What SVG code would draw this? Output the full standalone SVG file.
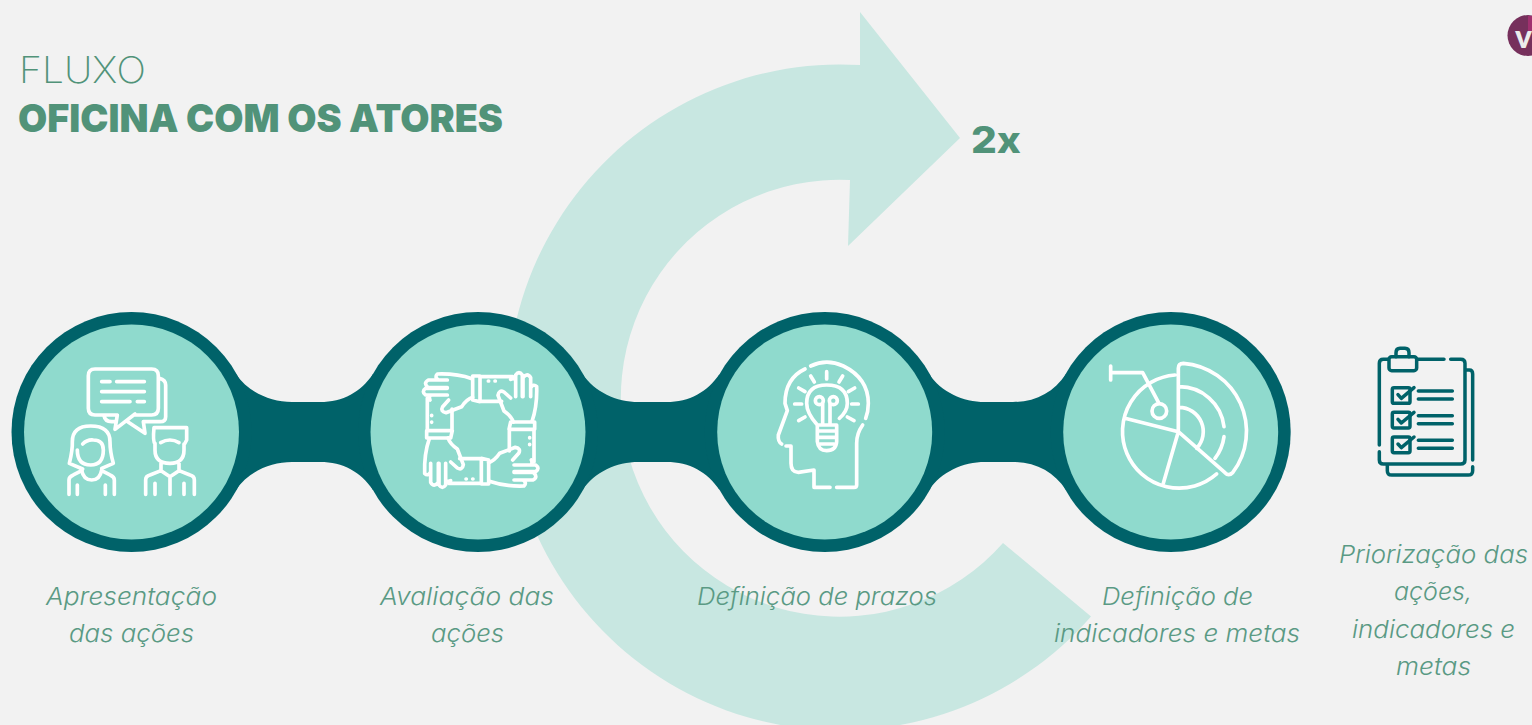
<svg xmlns="http://www.w3.org/2000/svg" xmlns:xlink="http://www.w3.org/1999/xlink" width="1532" height="725" viewBox="0 0 1532 725">
<style>
.lb{font-family:"Inter","Open Sans",sans-serif;font-weight:300;font-style:italic;font-size:24px;fill:#5a9a84}
.outer{fill:#006269}.inner{fill:#8fdacd}
.ic{fill:none;stroke:#fff;stroke-width:11;stroke-linecap:round;stroke-linejoin:round}
.ck{fill:none;stroke:#006269;stroke-width:10.5;stroke-linecap:round;stroke-linejoin:round}
.hd{font-family:"Inter",sans-serif;fill:#519379}
</style>
<defs>
<path id="neck" d="M236 374C248 392 270 402 292 402H320C343 402 361 392 373 374V490C361 472 343 462 320 462H292C270 462 248 472 236 490Z" fill="#006269"/>
<g id="arm">
<path d="M338 228L360 228V305L338 300ZM360 230H458M360 304H425M385 243H386M405 243H406"/>
<path d="M336 236Q290 220 232 222Q222 232 236 240H262M262 240H205Q188 250 205 263H262M262 265H197Q183 275 197 285H262M262 285H212Q205 290 210 300M338 292Q320 298 305 320L258 338Q240 335 248 320L266 300"/>
</g>
<g id="row">
<rect x="997" y="203" width="53" height="47" rx="5"/>
<path d="M1014 224L1024 235L1062 203M1075 213H1177M1075 237H1177"/>
</g>
</defs>
<rect width="1532" height="725" fill="#f2f2f2"/>
<g id="cycle-arrow">
<path d="M1003 543A218.5 218.5 0 1 1 850 180L848 246L960 138L860 12V65A333 333 0 1 0 1091 616.5Z" fill="#c8e7e1"/>
</g>
<g id="title">
<text class="hd" x="19" y="83" font-weight="200" font-size="37" textLength="127" lengthAdjust="spacingAndGlyphs">FLUXO</text>
<text class="hd" x="18" y="132" font-weight="900" font-size="39" textLength="485" lengthAdjust="spacingAndGlyphs">OFICINA COM OS ATORES</text>
</g>
<text id="repeat" class="hd" x="971" y="153" font-weight="800" font-size="37" textLength="50" lengthAdjust="spacingAndGlyphs">2x</text>
<g id="connectors">
<use xlink:href="#neck" href="#neck"/>
<use xlink:href="#neck" href="#neck" transform="translate(346.5 0)"/>
<use xlink:href="#neck" href="#neck" transform="translate(693 0)"/>
</g>
<g id="node-apresentacao">
<circle class="outer" cx="131.5" cy="432" r="120"/><circle class="inner" cx="131.5" cy="432" r="107.5"/>
<g class="ic" transform="translate(0 300) scale(.33333)">
<path d="M405 342L345 388L352 345H285Q265 345 265 325V227Q265 207 285 207H455Q475 207 475 227V325Q475 345 455 345H405M478 235Q497 240 497 255V350Q497 365 480 365H430L435 400L383 365M312 347Q315 365 335 365H345M305 245H330M350 245H433M305 275H433M305 305H390M412 305H433"/>
<path d="M248 507L208 490Q218 450 217 425Q217 378 272 378Q330 378 330 425Q330 455 340 490L305 505M232 450Q232 495 272 495Q310 495 310 450Q310 420 280 420Q262 418 248 432M245 510Q250 540 275 540Q300 540 305 510M207 583V540Q207 530 220 525L245 512M343 583V540Q343 530 330 525L305 512M232 555V583M316 555V583"/>
<path d="M465 432Q458 425 462 383H560V420L552 435M465 430V450Q465 490 510 490Q552 490 552 450V432M482 428Q510 412 537 428M483 490V512L510 530L537 512V490M437 583V540Q437 528 450 525L483 512M583 583V540Q583 528 570 525L537 512M465 550V583M552 550V583M510 530V583"/>
</g>
<text class="lb" x="46" y="605" textLength="171" lengthAdjust="spacingAndGlyphs">Apresentação</text>
<text class="lb" x="69" y="642" textLength="125" lengthAdjust="spacingAndGlyphs">das ações</text>
</g>
<g id="node-avaliacao">
<circle class="outer" cx="478" cy="432" r="120"/><circle class="inner" cx="478" cy="432" r="107.5"/>
<g class="ic" transform="translate(360 300) scale(.33333)">
<use xlink:href="#arm" href="#arm"/>
<use xlink:href="#arm" href="#arm" transform="rotate(90 362 390)"/>
<use xlink:href="#arm" href="#arm" transform="rotate(180 362 390)"/>
<use xlink:href="#arm" href="#arm" transform="rotate(270 362 390)"/>
</g>
<text class="lb" x="380" y="605" textLength="174" lengthAdjust="spacingAndGlyphs">Avaliação das</text>
<text class="lb" x="431" y="642" textLength="73" lengthAdjust="spacingAndGlyphs">ações</text>
</g>
<g id="node-prazos">
<circle class="outer" cx="824.7" cy="432" r="120"/><circle class="inner" cx="824.7" cy="432" r="107.5"/>
<g class="ic" transform="translate(710 300) scale(.33333)">
<path d="M285 207Q225 235 225 310L232 332L205 405Q203 425 215 432M302 198Q350 175 400 198Q475 235 475 310Q475 335 467 355M458 375Q440 400 440 430V555Q440 562 432 562H380M360 562H312V510L265 517Q243 517 243 490V438H228"/>
<path d="M388 355Q412 335 412 310Q412 255 350 255Q290 255 290 310Q290 340 322 375V425Q325 452 350 452Q378 452 380 425V375H322M322 393H380M322 412H380M330 432H372"/>
<circle cx="328" cy="302" r="12"/><circle cx="370" cy="302" r="12"/>
<path d="M338 372V312M360 372V312M350 215V237M302 228L313 246M398 228L387 246M266 264L285 275M434 264L415 275M254 312H275M425 312H445M266 362L285 351M432 362L412 351"/>
</g>
<text class="lb" x="697" y="605" textLength="240" lengthAdjust="spacingAndGlyphs">Definição de prazos</text>
</g>
<g id="node-indicadores">
<circle class="outer" cx="1170.7" cy="432" r="120"/><circle class="inner" cx="1170.7" cy="432" r="107.5"/>
<g class="ic" transform="translate(1060 320) scale(.33333)">
<path d="M152 138V180M152 158H248L297 250"/>
<circle cx="298" cy="273" r="22"/>
<path d="M345 165A170 170 0 1 0 470 462M355 335V145Q355 130 370 130A205 205 0 0 1 518 458Q506 470 495 458L355 335M357 200A135 135 0 0 1 492 320M492 350A135 135 0 0 1 465 415M357 262A73 73 0 0 1 410 385M355 335L195 295M355 335L310 490"/>
</g>
<text class="lb" x="1102" y="605" textLength="151" lengthAdjust="spacingAndGlyphs">Definição de</text>
<text class="lb" x="1054" y="642" textLength="246" lengthAdjust="spacingAndGlyphs">indicadores e metas</text>
</g>
<g id="node-priorizacao">
<g class="ck" transform="translate(1060 320) scale(.33333)">
<path d="M958 375V130Q958 118 970 118H985M1072 118H1152M1172 118H1202Q1215 118 1215 130V420Q1215 432 1202 432H970Q958 432 958 420V395"/>
<rect x="987" y="110" width="83" height="42" rx="8"/>
<path d="M1008 110V98Q1008 85 1020 85H1035Q1047 85 1047 98V110"/>
<path d="M1218 150H1228Q1238 150 1238 162V420M1238 440V452Q1238 465 1225 465H995Q982 465 982 452V435"/>
<use xlink:href="#row" href="#row"/>
<use xlink:href="#row" href="#row" transform="translate(0 74)"/>
<use xlink:href="#row" href="#row" transform="translate(0 148)"/>
</g>
<text class="lb" x="1339" y="563" textLength="189" lengthAdjust="spacingAndGlyphs">Priorização das</text>
<text class="lb" x="1394" y="600" textLength="78" lengthAdjust="spacingAndGlyphs">ações,</text>
<text class="lb" x="1352" y="638" textLength="163" lengthAdjust="spacingAndGlyphs">indicadores e</text>
<text class="lb" x="1396" y="675" textLength="75" lengthAdjust="spacingAndGlyphs">metas</text>
</g>
<g id="logo">
<circle cx="1528" cy="35.5" r="20.5" fill="#76305c"/>
<rect x="1528" y="16" width="4" height="16" fill="#a0306f"/>
<text x="1515" y="48" font-family="Lato,sans-serif" font-weight="900" font-size="32" fill="#ececec">v</text>
</g>
</svg>
